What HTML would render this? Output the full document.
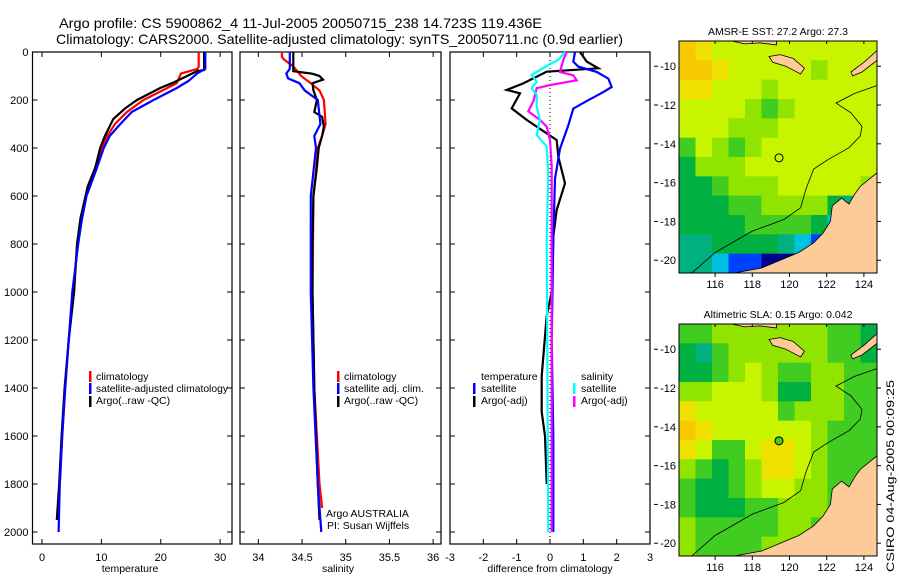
<!DOCTYPE html>
<html><head><meta charset="utf-8"><style>
html,body{margin:0;padding:0;background:#fff;}
svg{display:block;font-family:"Liberation Sans",sans-serif;}
</style></head><body>
<svg id="chart" width="900" height="580" viewBox="0 0 900 580" xmlns="http://www.w3.org/2000/svg">
<defs>
<clipPath id="clipTop"><rect x="679" y="41" width="198" height="232"/></clipPath>
<clipPath id="clipBot"><rect x="679" y="324" width="198" height="232"/></clipPath>
</defs>
<text x="59" y="28" font-size="14" textLength="483" lengthAdjust="spacingAndGlyphs">Argo profile: CS 5900862_4 11-Jul-2005 20050715_238 14.723S 119.436E</text>
<text x="56" y="44" font-size="14" textLength="567" lengthAdjust="spacingAndGlyphs">Climatology: CARS2000. Satellite-adjusted climatology: synTS_20050711.nc (0.9d earlier)</text>
<text transform="translate(894,572) rotate(-90)" font-size="11" textLength="192" lengthAdjust="spacingAndGlyphs">CSIRO 04-Aug-2005 00:09:25</text>
</svg>
<script>
// ---------- data ----------
const depthTicks = [0,200,400,600,800,1000,1200,1400,1600,1800,2000];
const tempTicks = [0,10,20,30];
const salTicks = [34,34.5,35,35.5,36];
const salTickLabels = ["34","34.5","35","35.5","36"];
const diffTicks = [-3,-2,-1,0,1,2,3];

const tempClimDepth = [0,60,70,90,130,200,250,300,350,400,500,600,700,800,1000,1200,1400,1600,1800];
const tempClim = [26.4,26.4,26.2,23.4,22.7,17.1,14.3,12.3,11.0,10.1,8.8,7.4,6.6,6.0,5.3,4.5,3.9,3.4,3.0];
const tempSatDepth = [0,70,90,120,150,200,250,300,350,400,500,600,700,800,1000,1200,1400,1600,1800,2000];
const tempSat = [27.5,27.5,26.1,24.7,22.7,18.8,15.1,13.2,11.4,10.4,9.0,7.5,6.7,6.1,5.1,4.5,3.9,3.4,3.0,2.8];
const tempArgoDepth = [0,75,80,130,150,200,235,280,350,400,480,560,690,800,1000,1200,1400,1600,1800,1950];
const tempArgo = [27.3,27.3,26.1,21.9,19.9,16.0,14.0,12.0,10.6,9.8,9.0,7.7,6.5,5.9,5.4,4.5,3.8,3.3,2.9,2.5];

const salClimDepth = [0,20,30,60,100,130,160,200,300,350,400,500,600,1000,1400,1800,1900];
const salClim = [34.27,34.27,34.29,34.40,34.49,34.60,34.70,34.75,34.77,34.73,34.68,34.66,34.63,34.62,34.64,34.70,34.73];
const salSatDepth = [0,70,90,110,130,160,200,300,350,400,500,600,1000,1400,1800,2000];
const salSat = [34.36,34.36,34.32,34.34,34.47,34.53,34.68,34.71,34.64,34.66,34.63,34.60,34.60,34.63,34.68,34.72];
const salArgoDepth = [0,80,90,100,115,130,160,200,250,270,310,350,400,480,600,800,1000,1400,1800,1950];
const salArgo = [34.40,34.40,34.61,34.70,34.74,34.62,34.63,34.67,34.64,34.73,34.75,34.73,34.69,34.67,34.63,34.62,34.62,34.64,34.68,34.70];

const dTempSatDepth = [0,40,61,83,111,146,167,201,236,306,403,528,778,1200,1600,2000];
const dTempSat = [0.75,0.7,0.85,1.4,1.75,1.85,1.6,1.15,0.7,0.55,0.3,0.15,0.1,0.05,0.1,0.1];
const dTempArgoDepth = [0,40,68,82,131,158,172,235,283,367,436,547,658,769,1000,1100,1350,1500,1600,1800];
const dTempArgo = [0.9,1.1,1.45,-0.1,-0.8,-1.3,-0.9,-1.15,-0.7,0.2,0.25,0.45,0.2,0.1,0.05,-0.1,-0.25,-0.25,-0.15,-0.1];
const dSalSatDepth = [0,33,54,96,124,151,179,228,283,346,394,506,783,2000];
const dSalSat = [0.45,0.25,-0.05,-0.55,-0.4,-0.55,-0.4,-0.4,-0.3,-0.4,-0.1,-0.05,-0.1,-0.05];
const dSalArgoDepth = [0,33,83,97,118,138,151,206,247,283,311,367,478,644,1400,1800,2000];
const dSalArgo = [0.5,0.4,0.3,0.7,0.8,0.0,-0.4,-0.5,-0.65,-0.3,-0.1,0,0.05,0.05,0.05,0.05,0.05];

const lonTicks = [116,118,120,122,124];
const latTicks = [-10,-12,-14,-16,-18,-20];
const colorMap = ["#00008c","#0040ff","#00c0e0","#00b080","#00b040","#40cc20","#90e400","#c8f400","#f0e000","#f8c800"];
const sstGrid = [
 [9,8,7,7,7,7,7,7,7,7,7,7],
 [9,9,8,7,7,7,7,7,6,7,7,7],
 [8,8,7,7,7,6,7,7,7,7,7,7],
 [7,7,7,7,6,5,6,7,7,7,7,7],
 [7,7,7,6,6,6,7,7,7,7,7,7],
 [5,7,6,5,6,7,7,7,7,7,7,7],
 [4,6,6,6,7,7,7,7,7,7,7,7],
 [4,4,5,6,6,6,7,7,7,7,7,6],
 [4,4,4,5,5,6,6,6,6,4,3,3],
 [4,4,4,4,5,5,5,5,4,2,1,1],
 [3,3,4,4,4,4,3,2,1,0,0,0],
 [3,3,2,1,1,0,0,0,0,0,0,0]];
const slaGrid = [
 [5,5,6,6,6,6,6,6,6,5,5,4],
 [4,3,5,6,6,6,6,6,6,5,5,4],
 [4,4,5,6,7,6,5,5,6,6,5,5],
 [6,6,7,7,7,6,4,4,6,6,5,5],
 [8,7,7,7,7,7,5,6,6,6,5,5],
 [9,8,7,7,7,7,7,7,6,5,5,5],
 [8,7,5,5,7,8,8,7,6,5,5,5],
 [6,5,4,5,6,8,8,7,6,5,5,5],
 [5,4,4,5,6,7,7,6,6,5,5,5],
 [5,4,4,4,5,5,6,6,6,5,5,5],
 [6,5,5,5,5,5,6,6,5,5,5,5],
 [6,5,5,5,5,6,6,6,5,5,5,5]];
const mainlandLon = [116.8,118.5,119.5,120.5,121.3,121.8,122.2,122.3,122.8,123.2,123.5,123.8,124.7,124.7];
const mainlandLat = [-20.7,-20.4,-20.0,-19.6,-19.1,-18.6,-18.0,-17.2,-16.8,-17.1,-16.6,-16.2,-15.5,-20.7];
const sumbaLon = [118.9,119.5,120.2,120.8,120.6,119.8,119.1];
const sumbaLat = [-9.5,-9.4,-9.6,-10.1,-10.4,-10.0,-9.8];
const timorLon = [123.3,124.0,124.7,124.7,123.9,123.4];
const timorLat = [-10.3,-9.8,-9.2,-9.7,-10.3,-10.5];
const floresLon = [116.9,117.6,118.4,119.3,119.3,116.9];
const floresLat = [-8.7,-8.85,-8.8,-8.9,-8.7,-8.7];
const contourLon = [114.7,116,118,119.7,120.6,120.9,121.3,122.1,123.2,123.8,123.9,123.3,122.5,123.5,124.7];
const contourLat = [-20.7,-19.6,-18.5,-17.9,-17.3,-16.3,-15.3,-14.8,-14.2,-13.6,-13.1,-12.4,-11.9,-11.4,-11.0];
const argoLon = 119.436, argoLat = -14.723;

// ---------- helpers ----------
const NS = "http://www.w3.org/2000/svg";
const svg = document.getElementById("chart");
function mk(tag, attrs, parent){
  const e = document.createElementNS(NS, tag);
  for (const k in attrs) e.setAttribute(k, attrs[k]);
  (parent||svg).appendChild(e);
  return e;
}
const yTop = 52, yBot = 544;
function yD(d){ return yTop + d*0.24; }

function panel(name, x0, x1, vmin, vmax){
  return {name, x0, x1, sx: v => x0 + (v - vmin)/(vmax - vmin)*(x1 - x0)};
}
const P1 = panel("temperature", 32.5, 232, -1.6, 32.0);
const P2 = panel("salinity", 240, 441, 33.79, 36.09);
const P3 = panel("difference", 450, 650, -3, 3);

function frame(P, xt, xtl, showY){
  const r = mk("rect",{x:P.x0,y:yTop,width:P.x1-P.x0,height:yBot-yTop,fill:"none",stroke:"#000","stroke-width":1.2});
  
  
  depthTicks.forEach(d=>{
    const y=yD(d);
    const t1=mk("line",{x1:P.x0,x2:P.x0+5,y1:y,y2:y,stroke:"#000"});
    
    
    const t2=mk("line",{x1:P.x1-5,x2:P.x1,y1:y,y2:y,stroke:"#000"});
    
    
    if(showY){
      const l=mk("text",{x:P.x0-4,y:y+4,"font-size":11,"text-anchor":"end"});
      l.textContent=d;
      
      
    }
  });
  xt.forEach((v,i)=>{
    const x=P.sx(v);
    const b=mk("line",{x1:x,x2:x,y1:yBot,y2:yBot-5,stroke:"#000"});
    
    
    const t=mk("line",{x1:x,x2:x,y1:yTop,y2:yTop+5,stroke:"#000"});
    
    
    const l=mk("text",{x:x,y:561,"font-size":11,"text-anchor":"middle"});
    l.textContent=xtl[i];
    
    
  });
}
function series(P, depths, vals, color, name, w){
  const pts = depths.map((d,i)=>P.sx(vals[i]).toFixed(1)+","+yD(d).toFixed(1)).join(" ");
  const p = mk("polyline",{points:pts,fill:"none",stroke:color,"stroke-width":w||2.2,"stroke-linejoin":"miter"});
  
  
}
function txt(x,y,s,str,name,anchor,len){
  const t=mk("text",{x:x,y:y,"font-size":s,"text-anchor":anchor||"start"});
  if(len){ t.setAttribute("textLength",len); t.setAttribute("lengthAdjust","spacingAndGlyphs"); }
  t.textContent=str;
  
  
  return t;
}
function legendBar(x,y,color,name){
  const r=mk("rect",{x:x,y:y-5,width:2.5,height:11,fill:color});
  
  
}

// ---------- panel 1 ----------
frame(P1, tempTicks, tempTicks.map(String), true);
series(P1, tempClimDepth, tempClim, "#ff0000", "temperature-climatology-line");
series(P1, tempArgoDepth, tempArgo, "#000000", "temperature-argo-line");
series(P1, tempSatDepth, tempSat, "#0000ff", "temperature-satellite-line");
txt(130,572,10.5,"temperature","temperature-axis-title","middle");
legendBar(89,376,"#ff0000","legend-climatology-swatch");
txt(96,380,10.5,"climatology","legend-climatology-label");
legendBar(89,388,"#0000ff","legend-satellite-swatch");
txt(96,392,10.5,"satellite-adjusted climatology","legend-satellite-label","start",132);
legendBar(89,401,"#000000","legend-argo-swatch");
txt(96,404,10.5,"Argo(..raw -QC)","legend-argo-label");

// ---------- panel 2 ----------
frame(P2, salTicks, salTickLabels, false);
series(P2, salClimDepth, salClim, "#ff0000", "salinity-climatology-line");
series(P2, salArgoDepth, salArgo, "#000000", "salinity-argo-line");
series(P2, salSatDepth, salSat, "#0000ff", "salinity-satellite-line");
txt(338,572,10.5,"salinity","salinity-axis-title","middle");
legendBar(337,376,"#ff0000","legend2-climatology-swatch");
txt(344,380,10.5,"climatology","legend2-climatology-label");
legendBar(337,388,"#0000ff","legend2-satellite-swatch");
txt(344,392,10.5,"satellite adj. clim.","legend2-satellite-label");
legendBar(337,401,"#000000","legend2-argo-swatch");
txt(344,404,10.5,"Argo(..raw -QC)","legend2-argo-label");
txt(326,517,10.5,"Argo AUSTRALIA","argo-australia-label");
txt(327,529,10.5,"PI: Susan Wijffels","pi-label");

// ---------- panel 3 ----------
frame(P3, diffTicks, diffTicks.map(String), false);
const zl = mk("line",{x1:P3.sx(0),x2:P3.sx(0),y1:yTop,y2:yBot-6,stroke:"#000","stroke-dasharray":"1,3"});


series(P3, dTempArgoDepth, dTempArgo, "#000000", "diff-temperature-argo-line");
series(P3, dTempSatDepth, dTempSat, "#0000ff", "diff-temperature-satellite-line");
series(P3, dSalArgoDepth, dSalArgo, "#ff00ff", "diff-salinity-argo-line");
series(P3, dSalSatDepth, dSalSat, "#00ffff", "diff-salinity-satellite-line");
txt(550,572,10.5,"difference from climatology","difference-axis-title","middle");
txt(481,380,10.5,"temperature","legend3-temperature-heading");
legendBar(473,388,"#0000ff","legend3-temp-satellite-swatch");
txt(481,392,10.5,"satellite","legend3-temp-satellite-label");
legendBar(473,401,"#000000","legend3-temp-argo-swatch");
txt(481,404,10.5,"Argo(-adj)","legend3-temp-argo-label");
txt(581,380,10.5,"salinity","legend3-salinity-heading");
legendBar(573,388,"#00ffff","legend3-sal-satellite-swatch");
txt(581,392,10.5,"satellite","legend3-sal-satellite-label");
legendBar(573,401,"#ff00ff","legend3-sal-argo-swatch");
txt(581,404,10.5,"Argo(-adj)","legend3-sal-argo-label");

// ---------- maps ----------
function drawMap(prefix, top, grid, clipId, title, argoColor){
  const mx0=679, mx1=877, my1=top+232;
  const lonX = lon => mx0 + (lon-114.06)*18.6;
  const latY = lat => top + (-8.7-lat)*19.4;
  const g = mk("g",{"clip-path":"url(#"+clipId+")"});
  
  
  const cw=(mx1-mx0)/grid[0].length, ch=232/grid.length;
  grid.forEach((row,r)=>row.forEach((v,c)=>{
    const cell=mk("rect",{x:mx0+c*cw,y:top+r*ch,width:cw+0.5,height:ch+0.5,fill:colorMap[v]},g);
    
    
  }));
  function poly(lons,lats,name,fill){
    const pts=lons.map((l,i)=>lonX(l).toFixed(1)+","+latY(lats[i]).toFixed(1)).join(" ");
    const p=mk("polygon",{points:pts,fill:fill,stroke:"#000","stroke-width":0.8},g);
    
    
  }
  poly(mainlandLon,mainlandLat,prefix+'-mainland',"#fccb98");
  poly(sumbaLon,sumbaLat,prefix+'-sumba-island',"#fccb98");
  poly(timorLon,timorLat,prefix+'-timor-island',"#fccb98");
  poly(floresLon,floresLat,prefix+'-flores-island',"#fccb98");
  const cpts=contourLon.map((l,i)=>lonX(l).toFixed(1)+","+latY(contourLat[i]).toFixed(1)).join(" ");
  const cl=mk("polyline",{points:cpts,fill:"none",stroke:"#000","stroke-width":0.8},g);
  
  
  const ac=mk("circle",{cx:lonX(argoLon),cy:latY(argoLat),r:4,fill:argoColor,stroke:"#000","stroke-width":1});
  
  
  const fr=mk("rect",{x:mx0,y:top,width:mx1-mx0,height:232,fill:"none",stroke:"#000","stroke-width":1});
  
  
  lonTicks.forEach(l=>{
    const x=lonX(l);
    const t=mk("line",{x1:x,x2:x,y1:my1,y2:my1+4,stroke:"#000"});
    
    
    const tt=mk("line",{x1:x,x2:x,y1:top,y2:top+3,stroke:"#000"});
    
    
    txt(x,my1+15,11,String(l),prefix+'-lon-label',"middle");
  });
  latTicks.forEach(l=>{
    const y=latY(l);
    const t=mk("line",{x1:mx1,x2:mx1+4,y1:y,y2:y,stroke:"#000"});
    
    
    const t2=mk("line",{x1:654,x2:658,y1:y,y2:y,stroke:"#000"});
    
    
    txt(676,y+4,11,String(l),prefix+'-lat-label',"end");
  });
  txt(778,top-6,10.5,title,prefix+'-map-title',"middle");
}
drawMap("sst", 41, sstGrid, "clipTop", "AMSR-E SST: 27.2 Argo: 27.3", "none");
drawMap("sla", 324, slaGrid, "clipBot", "Altimetric SLA: 0.15 Argo: 0.042", "#40cc20");
</script>
</body></html>
